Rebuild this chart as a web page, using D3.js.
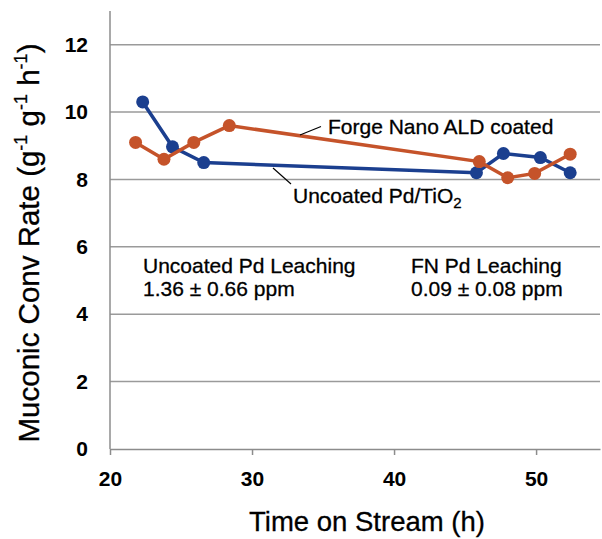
<!DOCTYPE html>
<html>
<head>
<meta charset="utf-8">
<script src="https://cdn.jsdelivr.net/npm/d3@7/dist/d3.min.js"></script>
<style>
  body { margin: 0; background: #fff; }
  svg text { font-family: "Liberation Sans", Arial, sans-serif; fill: #000; }
</style>
</head>
<body>
<svg width="602" height="539"></svg>
<script>
'use strict';
// time on stream (h) and muconic conversion rate (g g-1 h-1)
var uncoatedTime = [22.3, 24.4, 26.6, 45.8, 47.7, 50.3, 52.4];
var uncoatedRate = [10.3, 8.97, 8.5, 8.2, 8.77, 8.65, 8.2];
var coatedTime = [21.8, 23.8, 25.9, 28.4, 46.0, 48.0, 49.9, 52.4];
var coatedRate = [9.1, 8.6, 9.1, 9.6, 8.53, 8.05, 8.18, 8.75];
var xTicks = [20, 30, 40, 50];
var yTicks = [0, 2, 4, 6, 8, 10, 12];

var BLUE = '#1b3f8f';
var ORANGE = '#c5532a';

var svg = d3.select('svg');
var x = d3.scaleLinear().domain([20, 54.5]).range([110, 600]);
var y = d3.scaleLinear().domain([0, 13]).range([449, 11]);

// gridlines
svg.append('g')
  .selectAll('line').data(yTicks.filter(d => d > 0))
  .enter().append('line')
    .attr('x1', x(20)).attr('x2', x(54.5))
    .attr('y1', d => y(d)).attr('y2', d => y(d))
    .attr('stroke', '#9a9a9a').attr('stroke-width', 1.5);

// axes
var xaxis = svg.append('g')
  .attr('transform', `translate(0, ${y(0)})`)
  .call(d3.axisBottom(x).tickValues(xTicks).tickSize(6).tickPadding(16).tickSizeOuter(0));
var yaxis = svg.append('g')
  .attr('transform', `translate(${x(20)}, 0)`)
  .call(d3.axisLeft(y).tickValues(yTicks).tickSize(0).tickPadding(22).tickSizeOuter(0));
[xaxis, yaxis].forEach(a => {
  a.select('.domain').attr('stroke', '#8c8c8c').attr('stroke-width', 1.5);
  a.selectAll('.tick line').attr('stroke', '#8c8c8c').attr('stroke-width', 1.5);
  a.selectAll('.tick text')
    .attr('font-family', '"Liberation Sans", Arial, sans-serif')
    .attr('font-size', 21).attr('font-weight', 'bold').attr('fill', '#000');
});
yaxis.select('.domain').attr('d', `M0,${y(13)}V${y(0)}`);

// series
function series(xs, ys, color) {
  var pts = xs.map((t, i) => [t, ys[i]]);
  var line = d3.line().x(d => x(d[0])).y(d => y(d[1]));
  var g = svg.append('g');
  g.append('path')
    .attr('d', line(pts))
    .attr('fill', 'none')
    .attr('stroke', color)
    .attr('stroke-width', 3.5);
  g.selectAll('circle').data(pts)
    .enter().append('circle')
      .attr('cx', d => x(d[0]))
      .attr('cy', d => y(d[1]))
      .attr('r', 6.5)
      .attr('fill', color);
}
series(uncoatedTime, uncoatedRate, BLUE);
series(coatedTime, coatedRate, ORANGE);

// annotations
svg.append('line')
  .attr('x1', 300).attr('y1', 135).attr('x2', 321).attr('y2', 126.5)
  .attr('stroke', '#000').attr('stroke-width', 1.2);
svg.append('line')
  .attr('x1', 273).attr('y1', 168).attr('x2', 291).attr('y2', 184)
  .attr('stroke', '#000').attr('stroke-width', 1.2);

var ann = svg.append('g')
  .attr('font-size', 21)
  .attr('stroke', '#000').attr('stroke-width', 0.3);
ann.append('text')
  .attr('x', 328).attr('y', 134)
  .text('Forge Nano ALD coated');
var unc = ann.append('text')
  .attr('x', 293).attr('y', 203);
unc.append('tspan').text('Uncoated Pd/TiO');
unc.append('tspan').attr('font-size', 15).attr('dy', 5).text('2');

ann.append('text').attr('x', 143).attr('y', 273).text('Uncoated Pd Leaching');
ann.append('text').attr('x', 143).attr('y', 296).text('1.36 \u00b1 0.66 ppm');
ann.append('text').attr('x', 411).attr('y', 273).text('FN Pd Leaching');
ann.append('text').attr('x', 411).attr('y', 296).text('0.09 \u00b1 0.08 ppm');

// axis titles
svg.append('text')
  .attr('x', 367).attr('y', 531)
  .attr('text-anchor', 'middle')
  .attr('font-size', 27.5)
  .attr('stroke', '#000').attr('stroke-width', 0.3)
  .text('Time on Stream (h)');

var yt = svg.append('text')
  .attr('transform', 'translate(39, 243) rotate(-90)')
  .attr('text-anchor', 'middle')
  .attr('font-size', 29.5)
  .attr('stroke', '#000').attr('stroke-width', 0.3);
yt.append('tspan').text('Muconic Conv Rate (g');
yt.append('tspan').attr('font-size', 18).attr('dy', -12).text('-1');
yt.append('tspan').attr('dy', 12).text(' g');
yt.append('tspan').attr('font-size', 18).attr('dy', -12).text('-1');
yt.append('tspan').attr('dy', 12).text(' h');
yt.append('tspan').attr('font-size', 18).attr('dy', -12).text('-1');
yt.append('tspan').attr('dy', 12).text(')');
</script>
</body>
</html>
